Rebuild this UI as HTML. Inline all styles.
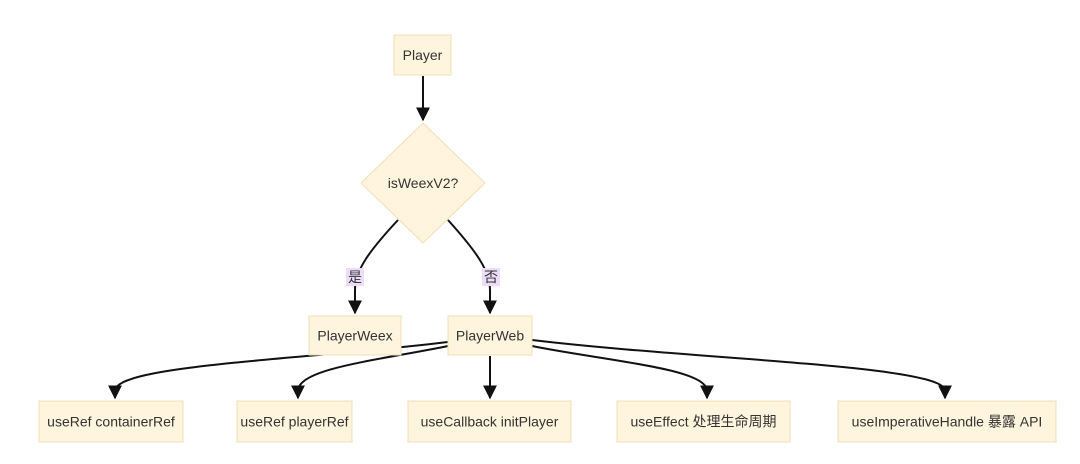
<!DOCTYPE html>
<html><head><meta charset="utf-8"><style>
body{margin:0;background:#fff;width:1080px;height:464px;overflow:hidden}
svg{display:block}
.n{fill:#fff4dd;stroke:#f0deb4;stroke-width:1}
text{font-family:"Liberation Sans","Noto Sans CJK SC",sans-serif;font-size:14px;fill:#333;text-anchor:middle;dominant-baseline:central}
.e{fill:none;stroke:#111;stroke-width:2}
</style></head><body>
<svg width="1080" height="464" viewBox="0 0 1080 464">
<defs><marker id="a" viewBox="0 0 10 10" refX="9" refY="5" markerWidth="7" markerHeight="7" orient="auto"><path d="M0,0L10,5L0,10z" fill="#111"/></marker></defs>
<path class="e" d="M423,76 L423,120" marker-end="url(#a)"/>
<path class="e" d="M398,220 C370,250 355,270 355,290 L355,313" marker-end="url(#a)"/>
<path class="e" d="M448,220 C475,250 490,270 490,290 L490,313" marker-end="url(#a)"/>
<path class="e" d="M448,342 C300,360 120,365 115,390 L115,398" marker-end="url(#a)"/>
<path class="e" d="M448,346 C380,360 300,368 298,390 L298,398" marker-end="url(#a)"/>
<path class="e" d="M490,356 L490,398" marker-end="url(#a)"/>
<path class="e" d="M532,346 C600,360 705,368 707,390 L707,398" marker-end="url(#a)"/>
<path class="e" d="M532,340 C700,360 940,365 945,390 L945,398" marker-end="url(#a)"/>
<rect class="n" x="394" y="35" width="57" height="40"/><text x="422.5" y="55">Player</text>
<path class="n" d="M423,123 L485,183 L423,243 L361,183z"/><text x="423" y="183">isWeexV2?</text>
<rect x="346" y="268" width="18" height="18" fill="#ecdcf7"/><text x="355" y="277">是</text>
<rect x="482" y="268" width="18" height="18" fill="#ecdcf7"/><text x="491" y="277">否</text>
<rect class="n" x="309" y="316" width="92" height="39"/><text x="355" y="335.5">PlayerWeex</text>
<rect class="n" x="448" y="316" width="84" height="39"/><text x="490" y="335.5">PlayerWeb</text>
<rect class="n" x="39" y="401" width="144" height="41"/><text x="111" y="421.5">useRef containerRef</text>
<rect class="n" x="237" y="401" width="115" height="41"/><text x="294.5" y="421.5">useRef playerRef</text>
<rect class="n" x="408" y="401" width="163" height="41"/><text x="489.5" y="421.5">useCallback initPlayer</text>
<rect class="n" x="617" y="401" width="173" height="41"/><text x="703.5" y="421.5">useEffect 处理生命周期</text>
<rect class="n" x="838" y="401" width="218" height="41"/><text x="947" y="421.5">useImperativeHandle 暴露 API</text>
</svg>
</body></html>
